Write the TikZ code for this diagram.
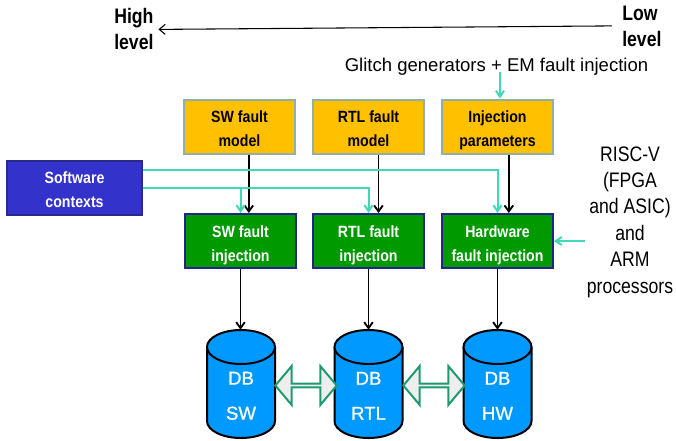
\documentclass[tikz,border=0pt]{standalone}
\usepackage{fontspec}
\setmainfont{Liberation Sans}
\newfontfamily\boxfont[FakeStretch=0.87]{Liberation Sans}
\newfontfamily\narrowfont[FakeStretch=0.84]{Liberation Sans}
\newfontfamily\dbfont[FakeBold=0.8]{Liberation Sans}
\usetikzlibrary{arrows.meta,shapes.arrows}
\definecolor{orangefill}{HTML}{FFC000}
\definecolor{orangeedge}{HTML}{8FB0A4}
\definecolor{greenfill}{HTML}{009900}
\definecolor{greenedge}{HTML}{23238C}
\definecolor{bluefill}{HTML}{3333CC}
\definecolor{blueedge}{HTML}{2A2A8A}
\definecolor{tealline}{HTML}{3FD9B8}
\definecolor{cylfill}{HTML}{0099FF}
\definecolor{dbledge}{HTML}{1E9A6E}
\definecolor{dblfill}{HTML}{EEEEEE}
\tikzset{
  box/.style={rectangle, minimum width=83.25pt, minimum height=40.5pt, inner sep=0pt,
    align=center, line width=1.5pt, text height=30pt, text depth=0pt,
    font=\boxfont\bfseries\fontsize{12.2}{18}\selectfont},
  orangebox/.style={box, fill=orangefill, draw=orangeedge},
  greenbox/.style={box, fill=greenfill, draw=greenedge, text=white},
  bluebox/.style={box, fill=bluefill, draw=blueedge, text=white, minimum width=101.25pt},
  blk/.style={draw=black, line width=1.4pt, -{Straight Barb[length=4.5pt,width=6.5pt]}},
  tl/.style={draw=tealline, line width=1.5pt, -{Straight Barb[length=4.5pt,width=6pt]}},
  levelarrow/.style={draw=black, line width=0.8pt, -{Straight Barb[length=4.5pt,width=7.5pt]}},
  leveltext/.style={inner sep=0pt, align=left, font=\narrowfont\bfseries\fontsize{15.75}{19.5}\selectfont},
  dbl/.style={double arrow, draw=dbledge, fill=dblfill, line width=1.5pt, inner sep=0pt,
    minimum height=46pt, minimum width=29.25pt, double arrow head extend=7.1pt,
    double arrow tip angle=100},
  cylarea/.style={rectangle, inner sep=0pt, minimum width=51pt, minimum height=81pt},
  dbtext/.style={inner sep=0pt, align=center, text=white, font=\dbfont\fontsize{14}{26.25}\selectfont},
  cylstyle/.style={fill=cylfill, draw=black, line width=1.5pt}
}
\begin{document}
\begin{tikzpicture}[x=0.75pt, y=-0.75pt]
\useasboundingbox (0,0) rectangle (676,440);

% level arrow
\node[leveltext, anchor=west] (high) at (114,29.4) {High\\level};
\node[leveltext, anchor=west] (low) at (622,25.9) {Low\\level};
\draw[levelarrow] ([xshift=-7.5pt]low.west) -- ([xshift=3.5pt]high.east);

% glitch text
\node[inner sep=0pt, font=\fontsize{13.9}{16}\selectfont] (glitch) at (496.5,67) {Glitch generators + EM fault injection};
\coordinate (glstart) at (500,72);

% top boxes
\node[orangebox] (swm) at (239.5,126.5) {SW fault\\model};
\node[orangebox] (rtlm) at (368.5,126.5) {RTL fault\\model};
\node[orangebox] (inj) at (497.5,126.5) {Injection\\parameters};

% software contexts
\node[bluebox] (sc) at (74.5,187.5) {Software\\contexts};

% green boxes
\node[greenbox] (swi) at (240.5,241) {SW fault\\injection};
\node[greenbox] (rtli) at (368.5,241) {RTL fault\\injection};
\node[greenbox] (hwi) at (497.5,241) {Hardware\\fault injection};

% RISC-V text
\node[inner sep=0pt, align=center, font=\narrowfont\fontsize{15.75}{19.8}\selectfont] (risc) at (630,222)
  {RISC-V\\(FPGA\\and ASIC)\\and\\ARM\\processors};

% cylinders
\foreach \cx in {241,368.5,497.5}{
  \fill[cylfill] (\cx-34,347) rectangle (\cx+34,421);
  \filldraw[cylstyle] (\cx-34,347) -- (\cx-34,421)
     arc[start angle=180, end angle=360, x radius=25.5pt, y radius=12.75pt] -- (\cx+34,347);
  \filldraw[cylstyle] (\cx,347) ellipse[x radius=25.5pt, y radius=12.75pt];
}
\node[cylarea] (dbsw) at (241,384) {};
\node[cylarea] (dbrtl) at (368.5,384) {};
\node[cylarea] (dbhw) at (497.5,384) {};
\node[dbtext] (dbswt) at (241,395.8) {DB\\SW};
\node[dbtext] (dbrtlt) at (368.5,395.8) {DB\\RTL};
\node[dbtext] (dbhwt) at (497.5,395.8) {DB\\HW};

% double arrows
\node[dbl] (a1) at (306,385.5) {};
\node[dbl] (a2) at (434,385.5) {};

% black arrows model -> injection
\draw[blk] ([xshift=7pt]swm.south) -- ([xshift=7pt]swm.south |- swi.north);
\draw[blk] ([xshift=7.5pt]rtlm.south) -- ([xshift=7.5pt]rtlm.south |- rtli.north);
\draw[blk] ([xshift=8.5pt]inj.south) -- ([xshift=8.5pt]inj.south |- hwi.north);

% teal connectors
\draw[tl] (glstart) -- (glstart |- inj.north);
\draw[tl] ([yshift=13.5pt]sc.east) -| (hwi.north);
\draw[tl] (sc.east) -| (rtli.north);
\draw[tl] (sc.east) -| (swi.north);
\draw[tl] ([xshift=-1pt]risc.west |- hwi.east) -- (hwi.east);

% black arrows injection -> DB
\draw[blk] (swi.south) -- (swi.south |- dbsw.north);
\draw[blk] (rtli.south) -- (rtli.south |- dbrtl.north);
\draw[blk] (hwi.south) -- (hwi.south |- dbhw.north);
\end{tikzpicture}
\end{document}
